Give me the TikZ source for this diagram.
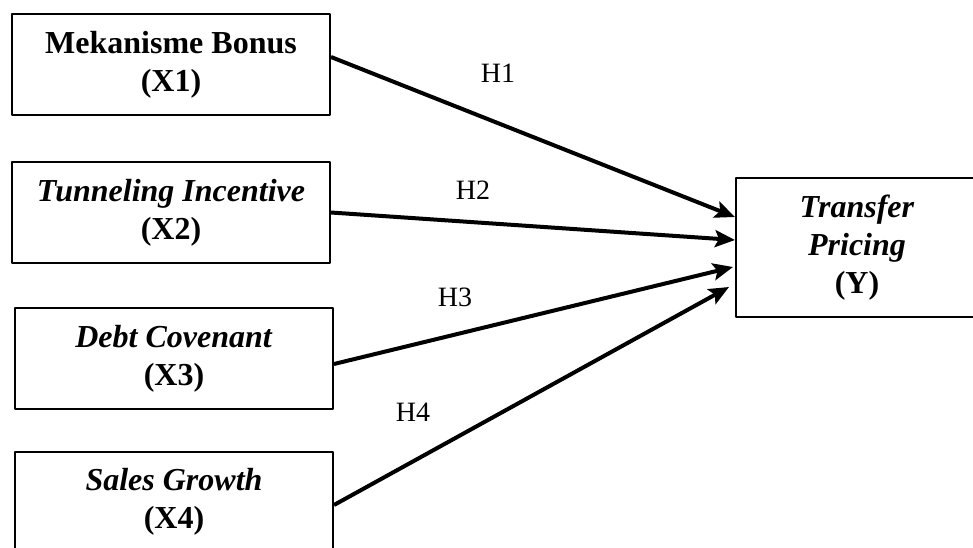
\documentclass[tikz,border=0pt]{standalone}
\usepackage{fontspec}
\setmainfont{Liberation Serif}
\usetikzlibrary{arrows.meta}
\begin{document}
\begin{tikzpicture}[x=0.5pt,y=-0.5pt,>={Stealth[length=10pt,width=8.5pt,inset=2pt]},line join=round,
  varbox/.style={draw,line width=1pt,minimum width=159pt,minimum height=50.5pt,inner sep=0pt,align=center,font=\fontsize{16}{19}\selectfont\bfseries},
  hyp/.style={font=\fontsize{14}{16}\selectfont}]
\useasboundingbox (0,0) rectangle (973,547);
\clip (0,0) rectangle (973,547);
\node[varbox] (x1) at (171,64.5) {Mekanisme Bonus\\(X1)};
\node[varbox] (x2) at (171,212.5) {\textit{Tunneling Incentive}\\(X2)};
\node[varbox] (x3) at (174,358.5) {\textit{Debt Covenant}\\(X3)};
\node[varbox] (x4) at (174,502) {\textit{Sales Growth}\\(X4)};
\node[varbox,minimum width=121pt,minimum height=69.5pt] (y) at (857,247.5) {\textit{Transfer}\\\textit{Pricing}\\(Y)};
\draw[->,line width=2pt] ([yshift=3.75pt]x1.east) -- ([yshift=15.25pt]y.west);
\draw[->,line width=2pt] (x2.east) -- ([yshift=3.75pt]y.west);
\draw[->,line width=2pt] ([yshift=-2.75pt]x3.east) -- ([xshift=-1pt,yshift=-9.75pt]y.west);
\draw[->,line width=2pt] ([yshift=-1.5pt]x4.east) -- ([xshift=-3pt,yshift=-19.75pt]y.west);
\node[hyp] (h1) at (498,73) {H1};
\node[hyp] (h2) at (473,190) {H2};
\node[hyp] (h3) at (455,297) {H3};
\node[hyp] (h4) at (413,412) {H4};
\end{tikzpicture}
\end{document}
